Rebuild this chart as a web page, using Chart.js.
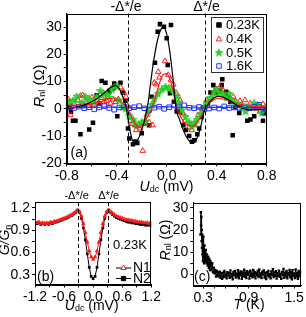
<!DOCTYPE html>
<html><head><meta charset="utf-8">
<script src="https://cdn.jsdelivr.net/npm/chart.js@4/dist/chart.umd.min.js"></script>
<style>
html,body{margin:0;padding:0;background:#fff;}
body{width:306px;height:317px;position:relative;overflow:hidden;}
canvas{position:absolute;}
</style></head><body>
<canvas id="ca" style="left:0;top:0" width="306" height="197"></canvas>
<canvas id="cb" style="left:0;top:186px" width="162" height="131"></canvas>
<canvas id="cc" style="left:158px;top:186px" width="148" height="131"></canvas>
<script>
// ---------- DATA ----------
// panel (a): nonlocal resistance vs Udc
const legendA = ['0.23K','0.4K','0.5K','1.6K'];
const pts023 = [[-0.78,0.5],[-0.766,-1.1],[-0.75,-4.4],[-0.73,-4.4],[-0.69,-9.3],[-0.66,1.0],[-0.62,-7.6],[-0.59,-5.1],[-0.56,5.0],[-0.54,2.0],[-0.52,10.2],[-0.49,9.6],[-0.46,6.5],[-0.43,7.5],[-0.42,9.3],[-0.395,-2.7],[-0.37,9.6],[-0.35,6.0],[-0.33,3.0],[-0.31,-7.2],[-0.30,-10.9],[-0.27,-13.0],[-0.25,-12.0],[-0.235,-12.5],[-0.20,-9.0],[-0.17,-5.0],[-0.14,-6.0],[-0.12,4.4],[-0.094,16.9],[-0.072,28.3],[-0.054,31.1],[-0.022,30.1],[0,25.9],[0.008,16.1],[0.026,5.7],[0.034,30.8],[0.058,2.6],[0.08,-1.0],[0.106,-1.1],[0.133,-6.0],[0.154,-7.8],[0.18,-10.0],[0.202,-12.1],[0.221,-11.5],[0.245,-9.3],[0.26,-7.2],[0.28,-3.0],[0.30,0.5],[0.33,2.0],[0.35,6.0],[0.373,8.7],[0.40,5.7],[0.42,6.5],[0.44,8.7],[0.445,10.9],[0.475,6.3],[0.49,4.4],[0.51,2.5],[0.528,-9.7],[0.55,0.5],[0.58,-1.5],[0.60,1.0],[0.645,-4.4],[0.67,-3.9],[0.70,-2.7],[0.72,0.5],[0.74,1.0],[0.77,-4.4],[0.79,-1.5]];
const pts04 = [[-0.787,3.5],[-0.77,-2.3],[-0.76,0.7],[-0.74,1.8],[-0.71,3.2],[-0.69,4.8],[-0.672,5.0],[-0.65,2.5],[-0.63,1.2],[-0.6,4.2],[-0.58,1.6],[-0.56,3.0],[-0.54,2.0],[-0.52,4.0],[-0.5,2.6],[-0.48,3.0],[-0.467,4.4],[-0.45,2.0],[-0.43,3.5],[-0.41,2.5],[-0.387,3.5],[-0.368,7.9],[-0.347,6.3],[-0.326,4.4],[-0.31,1.0],[-0.29,-4.4],[-0.27,-5.5],[-0.254,-6.0],[-0.245,-7.8],[-0.235,-6.4],[-0.215,-7.2],[-0.192,-15.4],[-0.175,-5.5],[-0.16,-2.3],[-0.14,-5.0],[-0.112,-6.0],[-0.1,9.6],[-0.085,9.0],[-0.067,13.6],[-0.059,11.5],[-0.014,17.5],[0.013,12.4],[0.032,10.5],[0.053,9.0],[0.08,5.5],[0.106,3.2],[0.128,-1.5],[0.146,-4.4],[0.18,-6.8],[0.2,-7.8],[0.226,-6.0],[0.253,-2.3],[0.28,0.1],[0.32,3.2],[0.373,5.7],[0.4,7.1],[0.426,8.1],[0.453,6.6],[0.48,5.0],[0.533,4.4],[0.586,2.9],[0.626,3.2],[0.667,2.0],[0.72,0.1],[0.745,-1.0],[0.77,1.7]];
const pts05 = [[-0.78,2.5],[-0.75,3.0],[-0.72,4.5],[-0.68,2.0],[-0.65,4.5],[-0.62,3.5],[-0.59,2.5],[-0.56,4.5],[-0.53,6.5],[-0.5,5.5],[-0.47,5.0],[-0.44,7.0],[-0.42,8.0],[-0.4,8.3],[-0.38,3.0],[-0.35,0.5],[-0.33,0.0],[-0.3,-2.5],[-0.27,-4.0],[-0.25,-5.5],[-0.22,-6.0],[-0.2,-5.0],[-0.17,-4.8],[-0.15,-1.0],[-0.12,1.5],[-0.1,3.5],[-0.07,5.5],[-0.04,7.0],[-0.01,8.0],[0.02,7.5],[0.05,6.5],[0.08,4.5],[0.1,2.0],[0.12,-0.5],[0.15,-3.0],[0.18,-5.0],[0.2,-6.5],[0.22,-5.5],[0.24,-4.0],[0.27,-2.0],[0.3,0.5],[0.32,2.0],[0.35,4.0],[0.38,6.0],[0.4,7.0],[0.42,6.0],[0.45,5.5],[0.48,4.0],[0.5,5.5],[0.53,3.0],[0.56,2.0],[0.6,0.5],[0.63,-1.0],[0.66,0.5],[0.7,2.0],[0.73,1.0],[0.76,-1.5],[0.79,0.5]];
const pts16 = [[-0.78,0.5],[-0.74,0.3],[-0.70,0.8],[-0.66,0.2],[-0.62,0.6],[-0.58,-0.2],[-0.54,0.5],[-0.50,1.0],[-0.46,0.3],[-0.42,-0.3],[-0.38,0.5],[-0.34,0.8],[-0.30,0.2],[-0.26,0.6],[-0.22,1.0],[-0.18,0.2],[-0.14,-0.5],[-0.10,0.4],[-0.06,0.8],[-0.02,0.0],[0.02,0.6],[0.06,1.2],[0.10,0.8],[0.14,1.3],[0.18,0.4],[0.22,0.2],[0.26,0.7],[0.30,-0.2],[0.34,0.1],[0.38,0.5],[0.42,0.1],[0.46,0.9],[0.50,0.3],[0.54,0.5],[0.58,0.3],[0.62,0.9],[0.66,0.2],[0.70,0.8],[0.74,1.5],[0.78,-1.5]];
// fitted curves (read at these Udc values)
const fitU = [-0.8,-0.75,-0.7,-0.65,-0.6,-0.55,-0.5,-0.45,-0.41,-0.375,-0.35,-0.325,-0.3,-0.275,-0.25,-0.225,-0.2,-0.175,-0.15,-0.125,-0.1,-0.075,-0.05,-0.025,0,0.025,0.05,0.075,0.1,0.125,0.15,0.175,0.2,0.225,0.25,0.275,0.3,0.325,0.35,0.375,0.41,0.45,0.5,0.55,0.6,0.65,0.7,0.75,0.8];
const fit023 = [0.2,0.4,0.9,1.6,2.6,4.0,5.8,7.8,8.5,7.0,4.2,0.7,-6.2,-11.5,-12.4,-10.8,-7.8,-3.7,1.8,10.9,18.8,24.9,28.8,30.0,27.4,20.9,11.3,0,-3.6,-6.9,-9.6,-11.5,-12.4,-12.1,-9.9,-6.0,-0.8,1.3,2.9,3.9,4.6,4.3,3.2,1.6,0.3,-0.3,-0.4,-0.2,0];
const fit04 = [1.4,1.4,1.4,1.5,1.8,2.3,3.0,3.7,3.7,3.0,2.1,0.8,-0.9,-3.5,-5.6,-6.6,-6.2,-4.7,-2.6,-0.4,2.8,6.8,10.5,12.7,12.9,11.0,7.0,1.2,-1.8,-4.0,-5.5,-6.2,-6.3,-5.9,-4.5,-2.6,-0.6,1.2,2.5,3.3,3.8,3.6,2.9,2.1,1.5,1.1,0.9,0.8,0.8];
const fit05 = [2.2,2.3,2.5,2.8,3.2,3.8,4.3,4.5,4.1,2.8,1.0,-1.0,-2.9,-4.4,-5.3,-5.4,-4.8,-3.5,-1.6,0.4,2.4,4.3,5.8,6.7,7.0,6.6,5.4,3.5,1.0,-1.5,-3.6,-5.0,-5.5,-5.2,-4.0,-2.2,-0.2,1.8,3.4,4.5,5.1,4.9,3.9,2.8,1.9,1.3,1.0,0.9,0.9];
const fit16 = [0.4,0.4,0.45,0.5,0.5,0.55,0.6,0.6,0.6,0.55,0.5,0.45,0.4,0.35,0.35,0.4,0.45,0.5,0.55,0.6,0.65,0.7,0.7,0.7,0.7,0.7,0.7,0.65,0.6,0.55,0.5,0.45,0.4,0.4,0.35,0.35,0.35,0.4,0.45,0.5,0.55,0.55,0.55,0.5,0.5,0.45,0.45,0.45,0.45];
const gapU = 0.31; // Delta*/e in mV
const aXTicks = [-0.8,-0.6,-0.4,-0.2,0,0.2,0.4,0.6,0.8];
const aXLabels = [-0.8,-0.4,0,0.4,0.8];
const aYTicks = [-20,-15,-10,-5,0,5,10,15,20,25,30];
const aYLabels = [-20,-10,0,10,20,30];

// panel (b): normalised conductance
const bU = [-1.2,-1.16,-1.12,-1.08,-1.04,-1.0,-0.96,-0.92,-0.88,-0.84,-0.8,-0.76,-0.72,-0.68,-0.64,-0.6,-0.56,-0.52,-0.48,-0.44,-0.4,-0.36,-0.32,-0.28,-0.24,-0.2,-0.16,-0.12,-0.08,-0.04,0,0.04,0.08,0.12,0.16,0.2,0.24,0.28,0.32,0.36,0.4,0.44,0.48,0.52,0.56,0.6,0.64,0.68,0.72,0.76,0.8,0.84,0.88,0.92,0.96,1.0,1.04,1.08,1.12,1.16,1.2];
const bN1 = [1.01,1.00,1.01,0.99,1.00,0.99,1.00,0.99,1.01,1.00,1.02,1.02,1.03,1.04,1.05,1.06,1.07,1.08,1.10,1.11,1.13,1.15,1.17,1.15,1.09,0.99,0.87,0.74,0.62,0.54,0.51,0.54,0.62,0.74,0.87,0.99,1.09,1.15,1.17,1.15,1.13,1.11,1.09,1.08,1.07,1.06,1.05,1.04,1.04,1.03,1.03,1.02,1.02,1.01,1.01,1.01,1.00,1.00,1.00,0.99,0.99];
const bN2 = [1.00,0.99,1.00,0.98,0.99,0.98,0.99,0.98,1.00,0.99,1.01,1.01,1.02,1.03,1.04,1.05,1.06,1.07,1.09,1.10,1.12,1.14,1.17,1.14,1.06,0.93,0.77,0.58,0.40,0.28,0.25,0.28,0.40,0.58,0.77,0.93,1.06,1.14,1.17,1.14,1.11,1.09,1.07,1.06,1.05,1.04,1.03,1.02,1.01,1.01,1.00,1.00,0.99,0.99,0.98,0.98,0.98,0.97,0.97,0.97,0.96];
const bXTicks = [-1.2,-0.9,-0.6,-0.3,0,0.3,0.6,0.9,1.2];
const bXLabels = [-1.2,-0.6,0,0.6,1.2];
const bYTicks = [0.3,0.45,0.6,0.75,0.9,1.05,1.2];
const bYLabels = [0.3,0.6,0.9,1.2];

// panel (c): Rnl vs temperature
const cT = [0.265,0.27,0.273,0.276,0.279,0.282,0.285,0.288,0.291,0.294,0.297,0.30,0.303,0.306,0.309,0.312,0.315,0.318,0.321,0.325,0.33,0.335,0.34,0.345,0.35,0.355,0.36,0.365,0.37,0.375,0.38,0.385,0.39,0.395,0.40,0.41,0.42,0.43,0.44,0.45,0.46,0.47,0.48,0.49,0.50,0.51,0.52,0.53,0.54,0.55,0.56,0.57,0.58,0.59,0.60,0.61,0.62,0.63,0.64,0.65,0.66,0.67,0.68,0.69,0.70,0.71,0.72,0.73,0.74,0.75,0.76,0.77,0.78,0.79,0.80,0.81,0.82,0.83,0.84,0.85,0.86,0.87,0.88,0.89,0.90,0.91,0.92,0.93,0.94,0.95,0.96,0.97,0.98,0.99,1.00,1.01,1.02,1.03,1.04,1.05,1.06,1.07,1.08,1.09,1.10,1.11,1.12,1.13,1.14,1.15,1.16,1.17,1.18,1.19,1.20,1.21,1.22,1.23,1.24,1.25,1.26,1.27,1.28,1.29,1.30,1.31,1.32,1.33,1.34,1.35,1.36,1.37,1.38,1.39,1.40,1.41,1.42,1.43,1.44,1.45,1.46,1.47,1.48,1.49,1.50,1.51,1.52,1.53,1.54,1.55,1.56,1.57,1.58];
const cR = [18,28,22,26,15,20,12,18,9,16,6,13,17,8,11,5,9,13,7,10,6,11,8,5,9,7,4,8,6,3,7,5,2,6,4,2,5,1,3,0.5,2,-1,1.5,-0.5,1,-1.0,1.2,-1.5,0.5,-2.0,0.8,-1.2,1.5,-0.8,0.3,-1.8,1.0,-0.5,0.7,-1.5,1.8,-1.0,0.2,-2.2,1.1,-0.3,1.6,-1.4,0.4,-0.9,1.9,-1.7,0.6,-0.4,1.3,-2.0,0.9,-0.7,2.1,-1.1,0.5,-1.6,1.4,-0.2,0.8,-1.9,1.7,-0.6,0.3,-1.3,2.0,-0.9,1.0,-1.8,0.6,-0.4,1.5,-1.2,2.2,-0.8,0.4,-1.6,1.2,-0.1,1.8,-1.4,0.7,-2.1,1.0,-0.5,1.6,-1.0,0.2,-1.7,1.3,-0.3,2.3,-1.2,0.9,-0.7,1.4,-1.9,0.5,-0.6,1.7,-1.1,0.3,-2.0,1.1,-0.2,2.4,-1.5,0.8,-0.9,1.5,-1.8,0.6,-0.4,2.0,-1.3,1.0,-2.2,1.9,-0.6,0.4,-1.6,2.2,-1.0,0.7,-2.0,1.6,-0.8,0.9];
const cXTicks = [0.3,0.45,0.6,0.75,0.9,1.05,1.2,1.35,1.5];
const cXLabels = [0.3,0.9,1.5];
const cYTicks = [0,5,10,15,20,25,30];
const cYLabels = [0,10,20,30];

// ---------- RENDER ----------
const FAM = '"Liberation Sans", Arial, Helvetica, sans-serif';
Chart.defaults.font.family = FAM;
Chart.defaults.color = '#000';
const RED = '#ff1a1a', GREEN = '#22dd22', BLUE = '#2233ff';

function starImg(size, color){
  const c = document.createElement('canvas'); c.width = size; c.height = size;
  const g = c.getContext('2d'); const cx = size/2, cy = size/2, ro = size/2, ri = ro*0.45;
  g.beginPath();
  for (let i=0;i<10;i++){ const r = i%2?ri:ro; const a = -Math.PI/2 + i*Math.PI/5; g.lineTo(cx+r*Math.cos(a), cy+r*Math.sin(a)); }
  g.closePath(); g.fillStyle = color; g.fill(); g.strokeStyle = '#119911'; g.lineWidth = 0.5; g.stroke();
  return c;
}
const STAR = starImg(8, GREEN);

function rich(ctx, parts, cx, cy, rot){
  ctx.save(); ctx.translate(cx, cy); if (rot) ctx.rotate(rot);
  let w = 0; parts.forEach(p => { ctx.font = p.f; p.w = ctx.measureText(p.t).width; w += p.w; });
  let x = -w/2; ctx.textBaseline = 'middle'; ctx.fillStyle = '#000';
  parts.forEach(p => { ctx.font = p.f; ctx.fillText(p.t, x, p.dy || 0); x += p.w; });
  ctx.restore();
}
function text(ctx, t, x, y, size, align){
  ctx.save(); ctx.font = size + 'px ' + FAM; ctx.fillStyle = '#000'; ctx.textBaseline = 'middle';
  ctx.textAlign = align || 'left'; ctx.fillText(t, x, y); ctx.restore();
}
function frame(chart){
  const a = chart.chartArea, ctx = chart.ctx;
  ctx.save(); ctx.strokeStyle = '#000'; ctx.lineWidth = 1;
  ctx.strokeRect(Math.round(a.left)+0.5, Math.round(a.top)+0.5, Math.round(a.right-a.left)-1, Math.round(a.bottom-a.top));
  ctx.restore();
}
function dashes(chart){
  const a = chart.chartArea, ctx = chart.ctx, x = chart.scales.x;
  ctx.save(); ctx.strokeStyle = '#000'; ctx.lineWidth = 1; ctx.setLineDash([4,3]);
  [-gapU, gapU].forEach(u => { const px = Math.round(x.getPixelForValue(u))+0.5; ctx.beginPath(); ctx.moveTo(px, a.top); ctx.lineTo(px, a.bottom); ctx.stroke(); });
  ctx.restore();
  return [x.getPixelForValue(-gapU), x.getPixelForValue(gapU)];
}
function pt(ctx, style, r, x, y, fill, stroke){
  ctx.save(); ctx.fillStyle = fill; ctx.strokeStyle = stroke; ctx.lineWidth = 1;
  Chart.helpers.drawPoint(ctx, {pointStyle: style, radius: r, borderWidth: 1, rotation: 0}, x, y);
  ctx.restore();
}
function axis(ticksArr, labelsArr, fmt, fitSize, isX){
  return {
    type: 'linear',
    afterBuildTicks: s => { s.ticks = ticksArr.map(v => ({value: v})); },
    afterFit: s => { if (isX) s.height = fitSize; else s.width = fitSize; },
    ticks: { color: '#000', font: {size: 14}, padding: isX ? 1 : 2, maxRotation: 0, autoSkip: false,
      callback: v => labelsArr.includes(v) ? fmt(v) : '' },
    grid: { drawOnChartArea: false, drawTicks: true, tickLength: 3, color: '#000' },
    border: { display: true, color: '#000', width: 1 }
  };
}
const toXY = arr => arr.map(p => ({x: p[0], y: p[1]}));
const zipXY = (xs, ys) => xs.map((x, i) => ({x: x, y: ys[i]}));
const f1 = v => v.toFixed(1), f0 = v => String(v);

// ----- panel (a)
const ax = axis(aXTicks, aXLabels, f1, 197-163.3, true); ax.min = -0.8; ax.max = 0.8;
const ay = axis(aYTicks, aYLabels, f0, 66.7, false); ay.min = -20; ay.max = 35;
new Chart(document.getElementById('ca'), {
  type: 'scatter',
  data: { datasets: [
    {label: legendA[0], data: toXY(pts023), pointStyle: 'rect', pointRadius: 3.2, backgroundColor: '#000', borderColor: '#000', borderWidth: 0, order: 8},
    {label: legendA[1], data: toXY(pts04), pointStyle: 'triangle', pointRadius: 3.2, backgroundColor: 'rgba(0,0,0,0)', borderColor: RED, borderWidth: 1, order: 7},
    {label: legendA[2], data: toXY(pts05), pointStyle: STAR, pointRadius: 4, order: 6},
    {label: legendA[3], data: toXY(pts16), pointStyle: 'rect', pointRadius: 3.2, backgroundColor: 'rgba(0,0,0,0)', borderColor: BLUE, borderWidth: 1, order: 5},
    {label: 'fit 0.5K', data: zipXY(fitU, fit05), showLine: true, pointRadius: 0, borderColor: GREEN, borderWidth: 1.2, cubicInterpolationMode: 'monotone', order: 4},
    {label: 'fit 0.4K', data: zipXY(fitU, fit04), showLine: true, pointRadius: 0, borderColor: RED, borderWidth: 1.2, cubicInterpolationMode: 'monotone', order: 3},
    {label: 'fit 0.23K', data: zipXY(fitU, fit023), showLine: true, pointRadius: 0, borderColor: '#000', borderWidth: 1.2, cubicInterpolationMode: 'monotone', order: 2},
    {label: 'fit 1.6K', data: zipXY(fitU, fit16), showLine: true, pointRadius: 0, borderColor: BLUE, borderWidth: 1.2, cubicInterpolationMode: 'monotone', order: 1}
  ]},
  options: {
    responsive: false, animation: false, devicePixelRatio: 1,
    layout: { padding: {left: 0, top: 13.5, right: 306-266.7, bottom: 0} },
    plugins: { legend: {display: false}, tooltip: {enabled: false} },
    scales: { x: ax, y: ay }
  },
  plugins: [{ id: 'decoA', afterDraw(chart){
    const ctx = chart.ctx;
    frame(chart);
    const p = dashes(chart);
    text(ctx, '-Δ*/e', p[0]-2, 7.5, 14, 'center');
    text(ctx, 'Δ*/e', p[1]+1, 7.5, 14, 'center');
    rich(ctx, [{t:'R', f:'italic 15px '+FAM},{t:'nl', f:'9px '+FAM, dy:3},{t:' (Ω)', f:'15px '+FAM}], 40, 86, -Math.PI/2);
    rich(ctx, [{t:'U', f:'italic 14px '+FAM},{t:'dc', f:'9px '+FAM, dy:3},{t:' (mV)', f:'14px '+FAM}], 166.5, 186.7, 0);
    text(ctx, '(a)', 70.5, 152.7, 14);
    // legend box
    ctx.save(); ctx.fillStyle = '#fff'; ctx.fillRect(211, 17, 52, 56);
    ctx.strokeStyle = '#333'; ctx.lineWidth = 1; ctx.strokeRect(211.5, 17.5, 52, 55); ctx.restore();
    const ys = [25, 39.3, 52.7, 66];
    pt(ctx, 'rect', 3.2, 219, ys[0], '#000', '#000');
    pt(ctx, 'triangle', 3.2, 219, ys[1], 'rgba(0,0,0,0)', RED);
    ctx.drawImage(STAR, 215, ys[2]-4);
    pt(ctx, 'rect', 3.2, 219, ys[3], 'rgba(0,0,0,0)', BLUE);
    legendA.forEach((l, i) => text(ctx, l, 226, ys[i]+0.5, 13));
  }}]
});

// ----- panel (b)
const bx = axis(bXTicks, bXLabels, f1, 131-98.5, true); bx.min = -1.2; bx.max = 1.2;
const by = axis(bYTicks, bYLabels, f1, 35, false); by.min = 0.17; by.max = 1.28;
new Chart(document.getElementById('cb'), {
  type: 'scatter',
  data: { datasets: [
    {label: 'N1', data: zipXY(bU, bN1), showLine: true, borderColor: RED, borderWidth: 1, pointStyle: 'triangle', pointRadius: 2, backgroundColor: RED, pointBorderColor: RED, pointBorderWidth: 0.8, order: 1},
    {label: 'N2', data: zipXY(bU, bN2), showLine: true, borderColor: '#000', borderWidth: 1, pointStyle: 'rect', pointRadius: 1.9, backgroundColor: '#000', pointBorderWidth: 0, order: 2}
  ]},
  options: {
    responsive: false, animation: false, devicePixelRatio: 1,
    layout: { padding: {left: 0, top: 16, right: 10, bottom: 0} },
    plugins: { legend: {display: false}, tooltip: {enabled: false} },
    scales: { x: bx, y: by }
  },
  plugins: [{ id: 'decoB', afterDraw(chart){
    const ctx = chart.ctx;
    frame(chart);
    const p = dashes(chart);
    text(ctx, '-Δ*/e', p[0]-1.5, 9.7, 11, 'center');
    text(ctx, 'Δ*/e', p[1]+0.5, 9.7, 11, 'center');
    rich(ctx, [{t:'G/G', f:'italic 14px '+FAM},{t:'n', f:'9px '+FAM, dy:3}], 5.5, 54, -Math.PI/2);
    rich(ctx, [{t:'U', f:'italic 14px '+FAM},{t:'dc', f:'9px '+FAM, dy:3},{t:' (mV)', f:'14px '+FAM}], 91.7, 120, 0);
    text(ctx, '(b)', 37, 90.7, 14);
    text(ctx, '0.23K', 113, 59, 13);
    ctx.save(); ctx.strokeStyle = '#000'; ctx.lineWidth = 1;
    [[82, RED, 'triangle', 'N1'], [92.5, '#000', 'rect', 'N2']].forEach(r => {
      ctx.beginPath(); ctx.moveTo(116, r[0]); ctx.lineTo(131, r[0]); ctx.stroke();
      pt(ctx, r[2], 3, 123.5, r[0], r[2] === 'rect' ? '#000' : '#fff', r[1]);
      text(ctx, r[3], 133, r[0]+0.5, 14);
    });
    ctx.restore();
  }}]
});

// ----- panel (c)
const cx = axis(cXTicks, cXLabels, f1, 131-99.5, true); cx.min = 0.17; cx.max = 1.6;
const cy = axis(cYTicks, cYLabels, f0, 35.3, false); cy.min = -5; cy.max = 32.3;
new Chart(document.getElementById('cc'), {
  type: 'scatter',
  data: { datasets: [
    {label: 'Rnl(T)', data: zipXY(cT, cR), showLine: true, borderColor: '#000', borderWidth: 1, pointStyle: 'rect', pointRadius: 1.7, backgroundColor: '#000', pointBorderWidth: 0}
  ]},
  options: {
    responsive: false, animation: false, devicePixelRatio: 1,
    layout: { padding: {left: 0, top: 16.7, right: 4.3, bottom: 0} },
    plugins: { legend: {display: false}, tooltip: {enabled: false} },
    scales: { x: cx, y: cy }
  },
  plugins: [{ id: 'decoC', afterDraw(chart){
    const ctx = chart.ctx;
    frame(chart);
    rich(ctx, [{t:'R', f:'italic 14px '+FAM},{t:'nl', f:'9px '+FAM, dy:3},{t:' (Ω)', f:'14px '+FAM}], 8, 54, -Math.PI/2);
    rich(ctx, [{t:'T', f:'italic 14px '+FAM},{t:' (K)', f:'14px '+FAM}], 91, 119.5, 0);
    text(ctx, '(c)', 36, 91, 14);
  }}]
});
</script>
</body></html>
